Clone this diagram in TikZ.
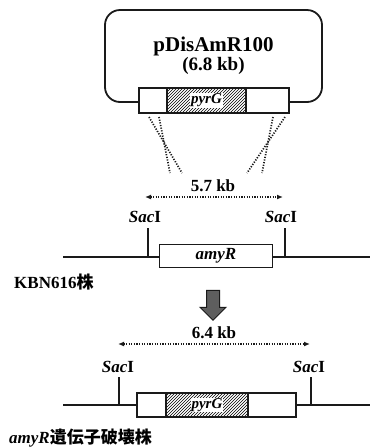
\documentclass[tikz,border=0pt]{standalone}
\usepackage{fontspec}
\setmainfont{Liberation Serif}
\newfontfamily\jpfont{Noto Sans CJK JP}
\usetikzlibrary{positioning,calc,arrows.meta,patterns,shapes.arrows}
\definecolor{cInk}{HTML}{1A1A1A}
\definecolor{cArrow}{HTML}{5E5E5E}
\tikzset{
  font=\bfseries\fontsize{17}{19}\selectfont,
  plasmid/.style={draw=cInk, line width=1.8pt, rounded corners=15pt, align=center,
                  minimum width=217pt, minimum height=92pt, inner sep=0pt},
  genebox/.style={draw=cInk, fill=white, line width=1.3pt, inner sep=0pt,
                  minimum height=#1},
  genebox/.default=24pt,
  marker/.style={draw=cInk, line width=1.3pt, pattern=north east lines, inner sep=0pt,
                 minimum height=#1},
  marker/.default=24pt,
  genename/.style={font=\bfseries\itshape\fontsize{17}{17}\selectfont, inner sep=0.5pt},
  markername/.style={font=\bfseries\itshape\fontsize{15}{15}\selectfont, fill=white,
                     inner sep=0.6pt},
  chrom/.style={draw=cInk, line width=1.8pt},
  site/.style={draw=cInk, line width=1.1pt},
  sitelabel/.style={inner sep=1pt},
  xover/.style={draw=cInk, line width=1.7pt, dash pattern=on 1.2pt off 1.5pt},
  span/.style={draw=cInk, line width=1.5pt, dash pattern=on 1.2pt off 1.4pt,
               {Latex[length=6pt,width=5pt]}-{Latex[length=6pt,width=5pt]}},
  strain/.style={anchor=west, inner sep=0pt},
}

\begin{document}
\begin{tikzpicture}[x=1pt, y=-1pt]
\useasboundingbox (0,0) rectangle (370,448);

% ------------------------------------------------------------------ plasmid
\node[plasmid] (pDis) at (213.5,56)
  {\fontsize{21}{17}\selectfont pDisAmR100\\\fontsize{19}{17}\selectfont (6.8 kb)};
\node[genebox=25pt, minimum width=150pt] (cas1) at (214,100.5) {};
\node[marker=25pt, minimum width=79pt] (hat1) at (206.5,100.5) {};
\node[markername] (pyr1) at (hat1) {pyrG};

% crossover lines down to the chromosome
\coordinate (xL1) at (149,117);  \coordinate (xL2) at (159,117);
\coordinate (xR1) at (273,117);  \coordinate (xR2) at (285,117);
\coordinate (yL1) at (182,173);  \coordinate (yL2) at (170,173);
\coordinate (yR1) at (262,173);  \coordinate (yR2) at (247,173);
\draw[xover] (xL1) -- (yL1);
\draw[xover] (xL2) -- (yL2);
\draw[xover] (xR1) -- (yR1);
\draw[xover] (xR2) -- (yR2);

% ------------------------------------------------------------------ KBN616
\coordinate (m1w) at (145,197);  \coordinate (m1e) at (283,197);
\draw[span] (m1w) -- (m1e);
\node (len1) at (213,186) {5.7 kb};

\coordinate (chr1w) at (63,257);  \coordinate (chr1e) at (370,257);
\draw[chrom] (chr1w) -- (chr1e);
\coordinate (cut1L) at (148,257);  \coordinate (cut1R) at (285,257);
\draw[site] (cut1L) -- ++(0,-29);
\draw[site] (cut1R) -- ++(0,-29);
\node[sitelabel] (sac1L) at (145,217) {\textit{Sac}I};
\node[sitelabel] (sac1R) at (281,217) {\textit{Sac}I};

\node[genebox=23pt, minimum width=113pt] (amyR) at (216,256) {};
\node[genename] (amyRtxt) at (amyR) {amyR};
\node[strain] (kbn) at (14,282) {KBN616{\jpfont 株}};

% ------------------------------------------------------------------ disruption
\node[single arrow, shape border rotate=270, draw=cInk, line width=1pt, fill=cArrow,
      minimum height=30pt, single arrow head extend=6.5pt, inner sep=6pt] (step) at (213,302) {};

\coordinate (m2w) at (118,344);  \coordinate (m2e) at (310,344);
\draw[span] (m2w) -- (m2e);
\node (len2) at (214,333) {6.4 kb};

\coordinate (chr2w) at (63,405);  \coordinate (chr2e) at (370,405);
\draw[chrom] (chr2w) -- (chr2e);
\coordinate (cut2L) at (119,405);  \coordinate (cut2R) at (311,405);
\draw[site] (cut2L) -- ++(0,-28);
\draw[site] (cut2R) -- ++(0,-28);
\node[sitelabel] (sac2L) at (118,367) {\textit{Sac}I};
\node[sitelabel] (sac2R) at (309,367) {\textit{Sac}I};

\node[genebox=24pt, minimum width=159pt] (cas2) at (216.5,405) {};
\node[marker=24pt, minimum width=82pt] (hat2) at (207,405) {};
\node[markername] (pyr2) at (hat2) {pyrG};
\node[strain] (dis) at (9,438) {\textit{amyR}{\jpfont 遺伝子破壊株}};

\end{tikzpicture}
\end{document}
